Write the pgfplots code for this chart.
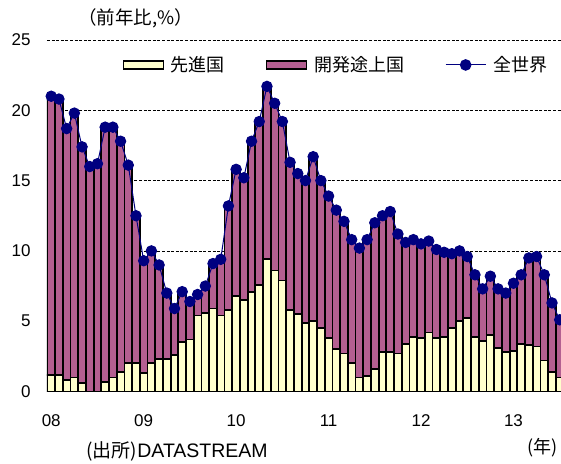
\documentclass[border=0pt]{standalone}
\usepackage{fontspec}
\setmainfont{Liberation Sans}
\newfontfamily\jp{Noto Sans CJK JP}
\usepackage{pgfplots}
\usepackage{pgfplotstable}
\pgfplotsset{compat=1.18}
\definecolor{advy}{RGB}{255,255,204}
\definecolor{devp}{RGB}{180,95,145}
\definecolor{navyb}{RGB}{0,0,128}

\pgfplotsset{
  boxlegend/.style={legend image code/.code={\draw[##1, line width=1.2pt] (0pt,-4pt) rectangle (40pt,4pt);}},
  linelegend/.style={legend image code/.code={\draw[navyb, line width=1pt] (0pt,0pt) -- (40pt,0pt);
    \fill[navyb] (20pt,0pt) circle (5.3pt);}},
  common/.style={
  at={(47pt,71.5pt)}, anchor=south west, scale only axis,
  width=514pt, height=351.5pt,
  xmin=-0.55, xmax=66.17, ymin=0, ymax=25}
}

\pgfplotstableread{
idx adv dev total
0 1.2 19.8 21.0
1 1.2 19.6 20.8
2 0.8 17.9 18.7
3 1.0 18.8 19.8
4 0.6 16.8 17.4
5 0.0 16.0 16.0
6 0.0 16.2 16.2
7 0.7 18.1 18.8
8 1.0 17.8 18.8
9 1.4 16.4 17.8
10 2.0 14.1 16.1
11 2.0 10.5 12.5
12 1.3 8.0 9.3
13 2.0 8.0 10.0
14 2.3 6.7 9.0
15 2.3 4.7 7.0
16 2.6 3.3 5.9
17 3.5 3.6 7.1
18 3.7 2.7 6.4
19 5.4 1.5 6.9
20 5.6 1.9 7.5
21 5.9 3.2 9.1
22 5.4 4.0 9.4
23 5.8 7.4 13.2
24 6.8 9.0 15.8
25 6.5 8.7 15.2
26 7.1 10.7 17.8
27 7.6 11.6 19.2
28 9.4 12.3 21.7
29 8.6 11.9 20.5
30 7.9 11.3 19.2
31 5.8 10.5 16.3
32 5.5 10.0 15.5
33 4.9 10.1 15.0
34 5.0 11.7 16.7
35 4.5 10.5 15.0
36 3.8 10.1 13.9
37 3.0 9.9 12.9
38 2.7 9.4 12.1
39 2.0 8.8 10.8
40 1.0 9.2 10.2
41 1.1 9.7 10.8
42 1.6 10.4 12.0
43 2.8 9.7 12.5
44 2.8 10.0 12.8
45 2.7 8.5 11.2
46 3.4 7.2 10.6
47 3.9 6.9 10.8
48 3.8 6.7 10.5
49 4.2 6.5 10.7
50 3.8 6.3 10.1
51 3.9 6.0 9.9
52 4.5 5.3 9.8
53 5.0 5.0 10.0
54 5.2 4.4 9.6
55 3.9 4.4 8.3
56 3.6 3.7 7.3
57 4.0 4.2 8.2
58 3.1 4.2 7.3
59 2.8 4.2 7.0
60 2.9 4.8 7.7
61 3.4 4.9 8.3
62 3.3 6.2 9.5
63 3.2 6.4 9.6
64 2.2 6.1 8.3
65 1.4 4.9 6.3
66 1.0 4.1 5.1
}\data

\begin{document}
\begin{tikzpicture}
\path[use as bounding box] (0,0) rectangle (561pt,463pt);
\begin{axis}[common, ybar stacked, bar width=7.7pt,
  clip mode=individual,
  axis lines*=left,
  y axis line style={draw=none},
  x axis line style={black!60, line width=1pt},
  ytick={0,5,...,25},
  xtick={0,12,24,36,48,60}, xticklabels={08,09,10,11,12,13},
  tick style={draw=none},
  ymajorgrids,
  major grid style={black, line width=0.8pt, dash pattern=on 3pt off 1.6pt},
  tick label style={font=\fontsize{17}{17}\selectfont},
  /pgf/number format/assume math mode=true,
  yticklabel style={xshift=-13pt},
  xticklabel style={yshift=-20pt},
  legend columns=3,
  legend cell align=left,
  legend style={at={(axis description cs:0.147,0.929)}, anchor=west,
    draw=none, fill=none, inner sep=0pt,
    font=\jp\fontsize{18}{18}\selectfont,
    /tikz/every odd column/.append style={column sep=5pt},
    /tikz/every even column/.append style={column sep=39pt}},
  ]
\addplot[fill=advy, draw=black, line width=1.8pt, boxlegend]
  table[x=idx,y=adv]{\data};
\addplot[fill=devp, draw=black, line width=1.8pt, boxlegend]
  table[x=idx,y=dev]{\data};
\addlegendimage{navyb, line width=1pt, linelegend}
\legend{先進国,開発途上国,全世界}
\node[font=\jp\fontsize{18.5}{18.5}\selectfont, anchor=west] at (axis description cs:0.054,1.0626) {（前年比,\%）};
\node[font=\fontsize{18}{18}\selectfont, anchor=west] at (axis description cs:0.07,-0.171) {{\jp\fontsize{19}{19}\selectfont(出所)}{\fontsize{19.5}{19.5}\selectfont DATASTREAM}};
\node[font=\jp\fontsize{18}{18}\selectfont, anchor=east] at (axis description cs:1.0,-0.161) {(年)};
\end{axis}
\begin{axis}[common, hide axis]
\addplot[navyb, line width=1pt, mark=*, mark size=5.2pt, mark options={fill=navyb, draw=navyb}]
  table[x=idx,y=total]{\data};
\end{axis}
\end{tikzpicture}
\end{document}
